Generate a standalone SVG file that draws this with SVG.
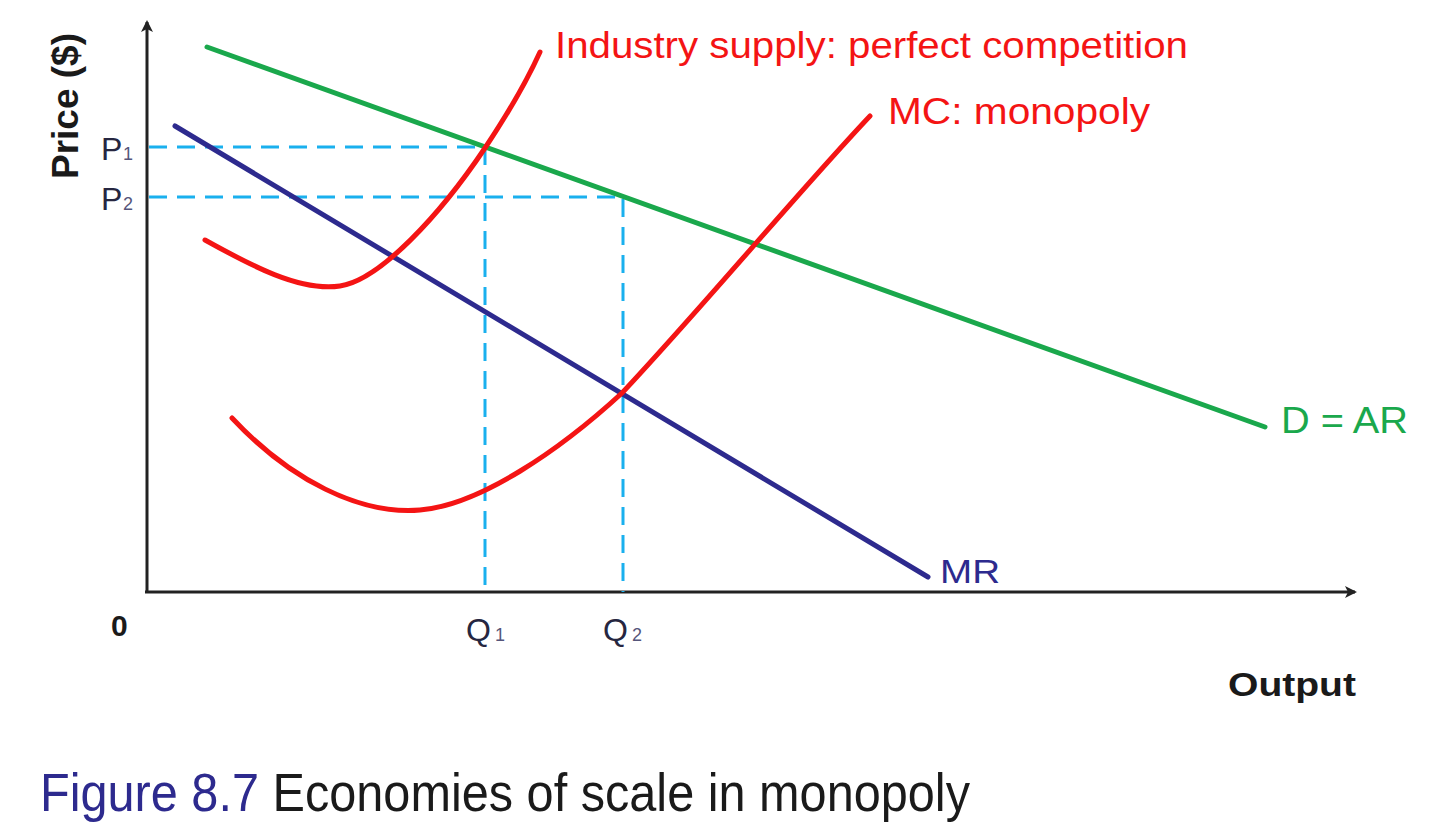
<svg xmlns="http://www.w3.org/2000/svg" width="1440" height="833" viewBox="0 0 1440 833">
<style>
text{font-family:"Liberation Sans","Open Sans",sans-serif}
.axis{stroke:#222;stroke-width:3;fill:none}
.curve{fill:none;stroke-width:5;stroke-linecap:round}
.red{stroke:#f41414}
.green{stroke:#1aa84c}
.blue{stroke:#2d2a8e}
.dash{stroke:#1ab0ee;stroke-width:3;stroke-dasharray:18,10;fill:none}
.lbl{font-size:32px;fill:#262640}
.sub{font-size:18px;fill:#55557a}
.bold{font-weight:bold;fill:#1a1a1a}
.redt{fill:#f41414;font-size:36px}
</style>
<defs>
<marker id="arr" markerWidth="12" markerHeight="12" refX="10" refY="6" orient="auto" markerUnits="userSpaceOnUse">
<path d="M0,0 L12,6 L0,12 L3,6 Z" fill="#222"/>
</marker>
</defs>
<rect width="1440" height="833" fill="#fff"/>
<g id="axes">
<line class="axis" x1="147" y1="593" x2="147" y2="22" marker-end="url(#arr)"/>
<line class="axis" x1="145" y1="592" x2="1355" y2="592" marker-end="url(#arr)"/>
</g>
<g id="connectors">
<path class="dash" d="M149,147 H485 V592"/>
<path class="dash" d="M149,197 H623 V592"/>
</g>
<g id="demand">
<line class="curve green" x1="207" y1="47" x2="1265" y2="427"/>
<text x="1281" y="433" font-size="36" fill="#1aa84c" textLength="127" lengthAdjust="spacingAndGlyphs">D = AR</text>
</g>
<g id="mr">
<line class="curve blue" x1="175" y1="126" x2="928" y2="577"/>
<text x="940" y="583" font-size="34" fill="#2d2a8e" textLength="60" lengthAdjust="spacingAndGlyphs">MR</text>
</g>
<g id="industry-supply">
<path class="curve red" d="M205,240 C250,265 300,292 340,286 C380,280 440,215 485,148 C505,118 525,85 540,52"/>
<text class="redt" x="555" y="58" textLength="633" lengthAdjust="spacingAndGlyphs">Industry supply: perfect competition</text>
</g>
<g id="mc">
<path class="curve red" d="M232,418 C290,480 360,515 420,510 C480,505 560,450 622,393 C700,310 800,190 870,116"/>
<text class="redt" x="888" y="124" textLength="262" lengthAdjust="spacingAndGlyphs">MC: monopoly</text>
</g>
<g id="labels">
<text class="bold" font-size="36" transform="translate(78,106) rotate(-90)" text-anchor="middle" textLength="146" lengthAdjust="spacingAndGlyphs">Price ($)</text>
<text class="lbl" x="101" y="160">P</text><text class="sub" x="123" y="160">1</text>
<text class="lbl" x="101" y="210">P</text><text class="sub" x="123" y="210">2</text>
<text class="lbl" x="466" y="641">Q</text><text class="sub" x="495" y="641">1</text>
<text class="lbl" x="603" y="641">Q</text><text class="sub" x="632" y="641">2</text>
<text class="bold" font-size="30" x="111" y="636">0</text>
<text class="bold" font-size="34" x="1228" y="696" textLength="128" lengthAdjust="spacingAndGlyphs">Output</text>
</g>
<g id="caption">
<text x="40" y="811" font-size="54" textLength="930" lengthAdjust="spacingAndGlyphs"><tspan fill="#2d2a8e">Figure 8.7</tspan><tspan fill="#1a1a1a"> Economies of scale in monopoly</tspan></text>
</g>
</svg>
